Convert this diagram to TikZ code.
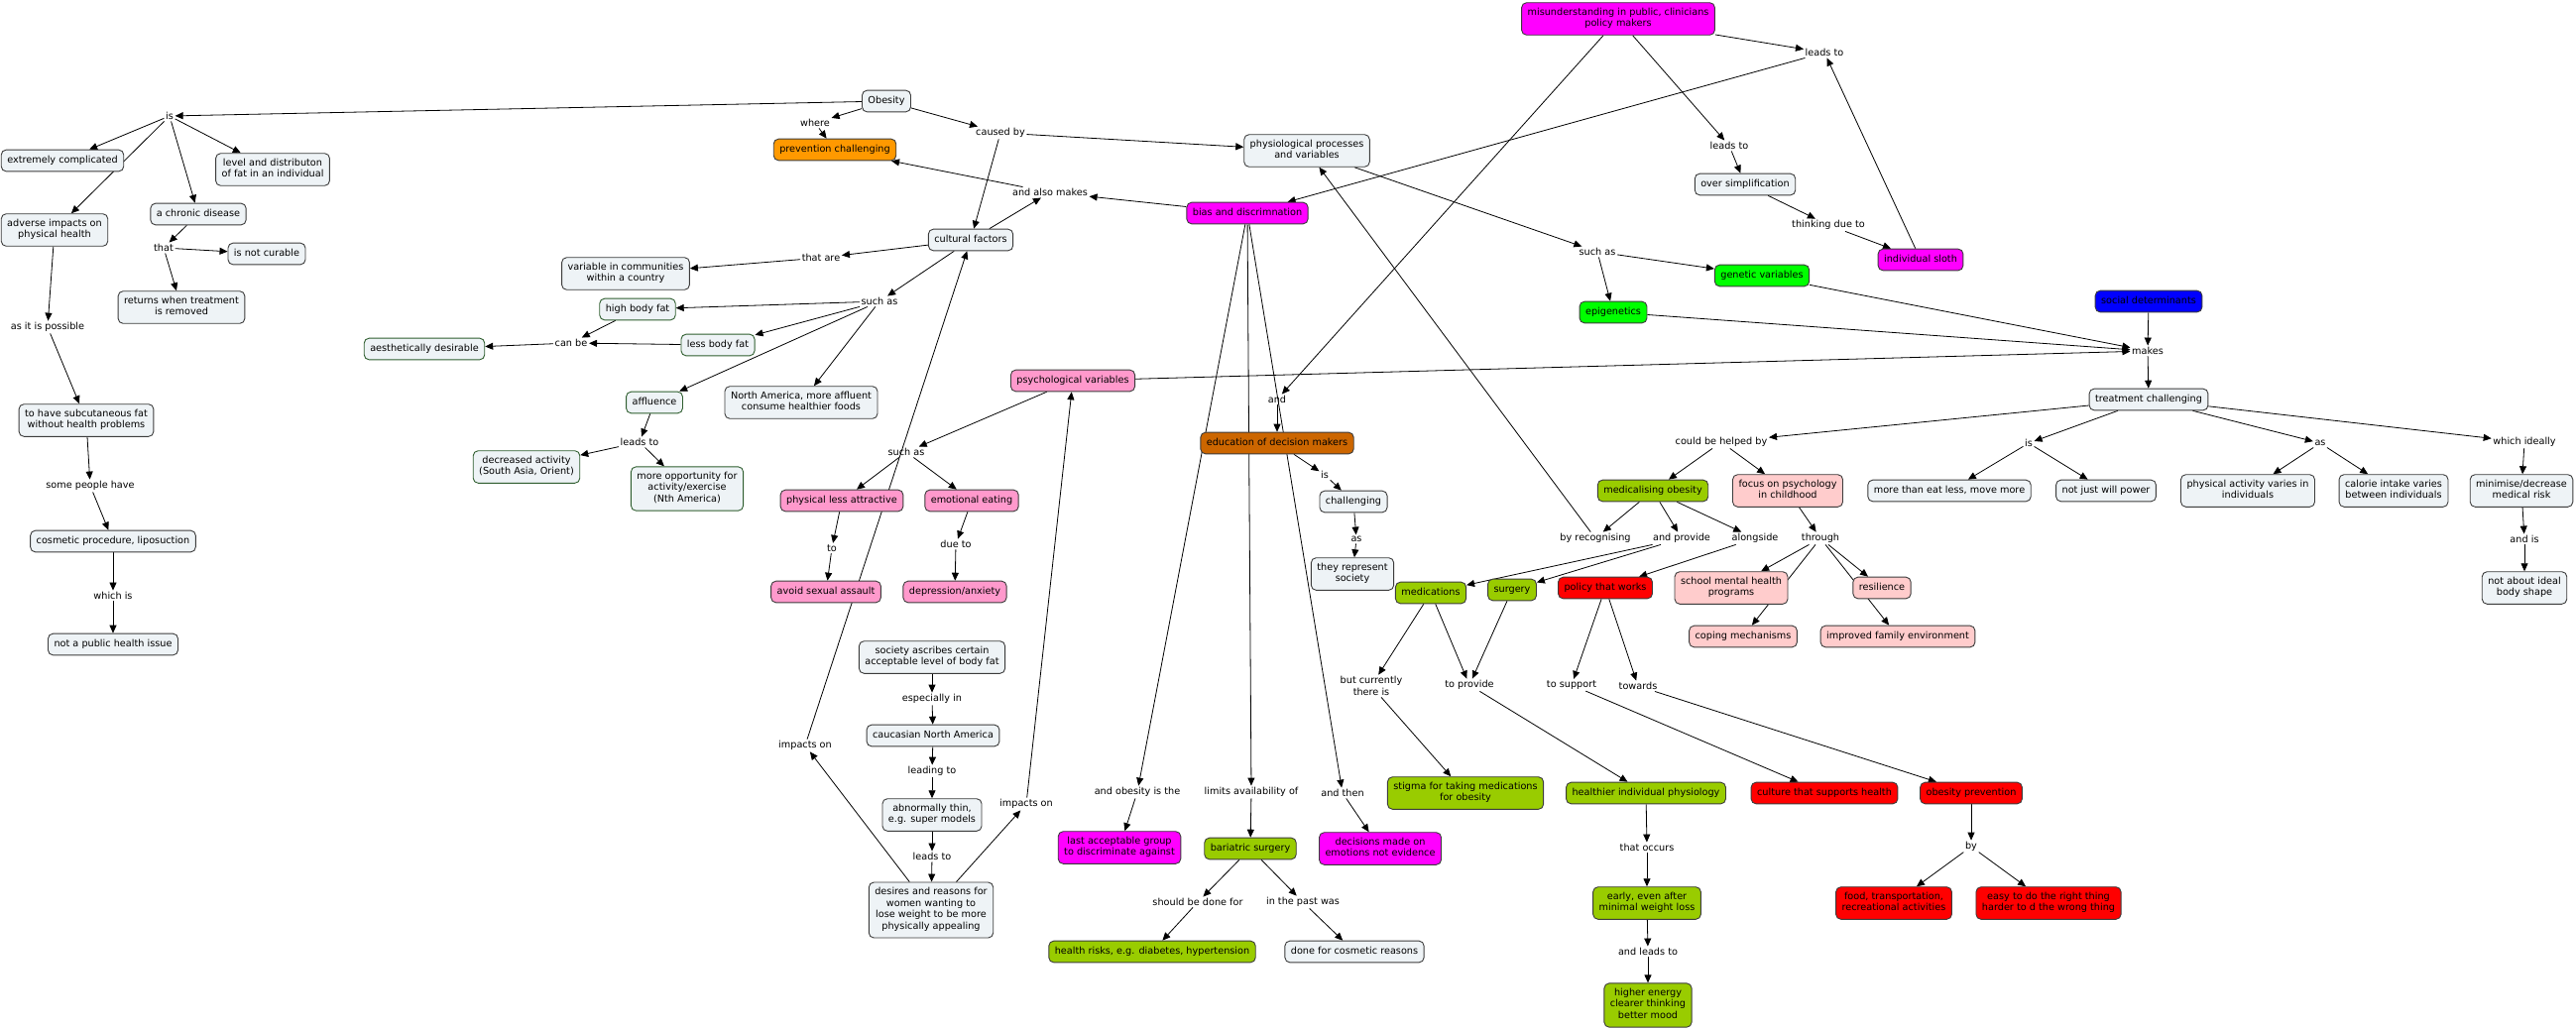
\documentclass[tikz,border=0pt]{standalone}
\usepackage{fontspec}
\setmainfont{DejaVu Sans}
\usetikzlibrary{positioning, arrows.meta, backgrounds}
\definecolor{cPale}{HTML}{EEF3F6}
\definecolor{cEdge}{HTML}{3C3C3C}
\definecolor{cLeaf}{HTML}{2F5E2F}
\definecolor{cMagenta}{HTML}{FF00FF}
\definecolor{cOrange}{HTML}{FF9900}
\definecolor{cRust}{HTML}{CC6600}
\definecolor{cLime}{HTML}{00FF00}
\definecolor{cBlue}{HTML}{0000FF}
\definecolor{cPink}{HTML}{FF99CC}
\definecolor{cOlive}{HTML}{99CC00}
\definecolor{cBlush}{HTML}{FFCCCC}
\definecolor{cRed}{HTML}{FF0000}

\begin{document}
\begin{tikzpicture}[
  x=1pt, y=-1pt,
  font=\fontsize{9.7}{11.7}\selectfont,
  concept/.style={
    draw=cEdge, fill=#1, rounded corners=5pt, line width=0.9pt,
    align=center, inner xsep=6pt, inner ysep=5pt,
    execute at begin node=\strut, execute at end node=\strut
  },
  concept/.default=cPale,
  leafbox/.style={concept, draw=cLeaf},
  linkword/.style={align=center, inner sep=1.5pt},
  link/.style={-{Triangle[length=8pt,width=7pt]}, line width=0.8pt},
]
\useasboundingbox (0,0) rectangle (2598,1037);

% obesity and what it is
\node[concept] (obesity) at (894,102) {Obesity};
\node[linkword] (is) at (171,117) {is};
\node[concept] (extcomp) at (63,162) {extremely complicated};
\node[concept] (levelfat) at (275,171) {level and distributon\\of fat in an individual};
\node[concept] (chronic) at (200,216) {a chronic disease};
\node[concept] (adverse) at (55,232) {adverse impacts on\\physical health};
\node[linkword] (that) at (165,250) {that};
\node[concept] (notcur) at (269,256) {is not curable};
\node[concept] (returns) at (183,310) {returns when treatment\\is removed};
\node[linkword] (asitis) at (48,330) {as it is possible};
\node[concept] (subcut) at (87,424) {to have subcutaneous fat\\without health problems};
\node[linkword] (somepeople) at (91,490) {some people have};
\node[concept] (cosmetic) at (114,546) {cosmetic procedure, liposuction};
\node[linkword] (whichis) at (114,601) {which is};
\node[concept] (notpublic) at (114,650) {not a public health issue};

% causes
\node[linkword] (where) at (822,124) {where};
\node[concept=cOrange] (prevch) at (842,151) {prevention challenging};
\node[linkword] (causedby) at (1009,134) {caused by};
\node[concept] (physio) at (1318,152) {physiological processes\\and variables};
\node[linkword] (alsomakes) at (1059,194) {and also makes};
\node[concept] (cultural) at (979,242) {cultural factors};
\node[linkword] (thatare) at (828,260) {that are};
\node[concept] (varcomm) at (631,276) {variable in communities\\within a country};
\node[linkword] (suchasC) at (887,304) {such as};
\node[leafbox] (highfat) at (643,312) {high body fat};
\node[leafbox] (lessfat) at (724,348) {less body fat};
\node[linkword] (canbe) at (576,346) {can be};
\node[leafbox] (aesth) at (428,352) {aesthetically desirable};
\node[leafbox] (affl) at (660,406) {affluence};
\node[concept] (namer) at (808,406) {North America, more affluent\\consume healthier foods};
\node[linkword] (leadsto3) at (645,446) {leads to};
\node[leafbox] (decact) at (531,471) {decreased activity\\(South Asia, Orient)};
\node[leafbox] (moreopp) at (693,493) {more opportunity for\\activity/exercise\\(Nth America)};

% psychology
\node[concept=cPink] (psychvar) at (1082,384) {psychological variables};
\node[linkword] (suchasV) at (914,456) {such as};
\node[concept=cPink] (physless) at (849,505) {physical less attractive};
\node[concept=cPink] (emot) at (980,505) {emotional eating};
\node[linkword] (toPhys) at (839,553) {to};
\node[linkword] (dueto) at (964,549) {due to};
\node[concept=cPink] (avoid) at (833,597) {avoid sexual assault};
\node[concept=cPink] (depress) at (963,597) {depression/anxiety};

% society
\node[concept] (society) at (940,663) {society ascribes certain\\acceptable level of body fat};
\node[linkword] (especially) at (940,705) {especially in};
\node[concept] (caucas) at (941,742) {caucasian North America};
\node[linkword] (leadingto) at (940,778) {leading to};
\node[concept] (abnorm) at (940,822) {abnormally thin,\\e.g. super models};
\node[linkword] (leadsto4) at (940,864) {leads to};
\node[concept] (desires) at (939,918) {desires and reasons for\\women wanting to\\lose weight to be more\\physically appealing};
\node[linkword] (impacts1) at (812,752) {impacts on};
\node[linkword] (impacts2) at (1035,811) {impacts on};

% misunderstanding
\node[concept=cMagenta] (mis) at (1632,19) {misunderstanding in public, clinicians\\policy makers};
\node[linkword] (leadsto1) at (1840,53) {leads to};
\node[linkword] (leadsto2) at (1744,147) {leads to};
\node[concept] (oversimp) at (1760,186) {over simplification};
\node[linkword] (thinking) at (1844,227) {thinking due to};
\node[concept=cMagenta] (sloth) at (1937,262) {individual sloth};
\node[concept=cMagenta] (bias) at (1258,215) {bias and discrimnation};
\node[linkword] (andE) at (1288,403) {and};
\node[concept=cRust] (educ) at (1288,447) {education of decision makers};
\node[linkword] (isEd) at (1336,479) {is};
\node[concept] (challenging) at (1365,506) {challenging};
\node[linkword] (asCh) at (1368,544) {as};
\node[concept] (represent) at (1364,579) {they represent\\society};

% bias outcomes
\node[linkword] (obisthe) at (1147,799) {and obesity is the};
\node[linkword] (limits) at (1262,799) {limits availability of};
\node[linkword] (andthen) at (1354,800) {and then};
\node[concept=cMagenta] (lastacc) at (1129,855) {last acceptable group\\to discriminate against};
\node[concept=cOlive] (bariatric) at (1261,856) {bariatric surgery};
\node[concept=cMagenta] (decisions) at (1392,856) {decisions made on\\emotions not evidence};
\node[linkword] (shoulddone) at (1208,910) {should be done for};
\node[linkword] (pastwas) at (1314,910) {in the past was};
\node[concept=cOlive] (healthrisks) at (1162,960) {health risks, e.g. diabetes, hypertension};
\node[concept] (cosmreason) at (1366,960) {done for cosmetic reasons};

% physiology
\node[linkword] (suchasP) at (1611,254) {such as};
\node[concept=cLime] (genetic) at (1777,278) {genetic variables};
\node[concept=cLime] (epigen) at (1627,315) {epigenetics};
\node[concept=cBlue] (socdet) at (2167,304) {social determinants};
\node[linkword] (makes) at (2166,354) {makes};
\node[concept] (treat) at (2167,403) {treatment challenging};

% treatment
\node[linkword] (helped) at (1736,446) {could be helped by};
\node[linkword] (isTc) at (2046,447) {is};
\node[linkword] (asTc) at (2340,447) {as};
\node[linkword] (ideally) at (2546,446) {which ideally};
\node[concept=cOlive] (medical) at (1667,495) {medicalising obesity};
\node[concept=cBlush] (focus) at (1803,495) {focus on psychology\\in childhood};
\node[concept] (morethan) at (1966,495) {more than eat less, move more};
\node[concept] (notjust) at (2124,495) {not just will power};
\node[concept] (physact) at (2267,495) {physical activity varies in\\individuals};
\node[concept] (calorie) at (2414,495) {calorie intake varies\\between individuals};
\node[concept] (minimise) at (2543,495) {minimise/decrease\\medical risk};
\node[linkword] (andis) at (2546,544) {and is};
\node[concept] (notideal) at (2546,593) {not about ideal\\body shape};
\node[linkword] (recog) at (1609,543) {by recognising};
\node[linkword] (provide) at (1696,543) {and provide};
\node[linkword] (alongside) at (1770,543) {alongside};
\node[linkword] (through) at (1836,543) {through};
\node[concept=cOlive] (medic) at (1443,598) {medications};
\node[concept=cOlive] (surgery) at (1525,595) {surgery};
\node[concept=cRed] (policy) at (1619,593) {policy that works};
\node[concept=cBlush] (school) at (1746,593) {school mental health\\programs};
\node[concept=cBlush] (resil) at (1898,593) {resilience};
\node[concept=cBlush] (coping) at (1758,642) {coping mechanisms};
\node[concept=cBlush] (family) at (1914,642) {improved family environment};

% provision
\node[linkword] (currently) at (1383,692) {but currently\\there is};
\node[linkword] (toprov) at (1482,691) {to provide};
\node[linkword] (tosupport) at (1585,691) {to support};
\node[linkword] (towards) at (1652,692) {towards};
\node[concept=cOlive] (stigma) at (1478,800) {stigma for taking medications\\for obesity};
\node[concept=cOlive] (healthier) at (1660,800) {healthier individual physiology};
\node[concept=cRed] (culture) at (1840,800) {culture that supports health};
\node[concept=cRed] (obprev) at (1988,800) {obesity prevention};
\node[linkword] (occurs) at (1661,855) {that occurs};
\node[linkword] (byP) at (1988,854) {by};
\node[concept=cOlive] (early) at (1661,911) {early, even after\\minimal weight loss};
\node[concept=cRed] (food) at (1910,911) {food, transportation,\\recreational activities};
\node[concept=cRed] (easy) at (2066,911) {easy to do the right thing\\harder to d the wrong thing};
\node[linkword] (andleads) at (1662,960) {and leads to};
\node[concept=cOlive] (higher) at (1662,1014) {higher energy\\clearer thinking\\better mood};

\begin{scope}[on background layer]
\fill[white] (0,0) rectangle (2598,1037);
% left branch
\draw[link] (obesity) -- (is);
\foreach \t in {extcomp, levelfat, adverse, chronic}
  \draw[link] (is) -- (\t);
\draw[link] (chronic) -- (that);
\draw[link] (that) -- (notcur);
\draw[link] (that) -- (returns);
\draw[link] (adverse) -- (asitis);
\draw[link] (asitis) -- (subcut);
\draw[link] (subcut) -- (somepeople);
\draw[link] (somepeople) -- (cosmetic);
\draw[link] (cosmetic) -- (whichis);
\draw[link] (whichis) -- (notpublic);
% causes
\draw[link] (obesity) -- (where);
\draw[link] (where) -- (prevch);
\draw[link] (obesity) -- (causedby);
\draw[link] (causedby) -- (physio);
\draw[link] (causedby) -- (cultural);
\draw[link] (cultural) -- (alsomakes);
\draw[link] (bias) -- (alsomakes);
\draw[link] (alsomakes) -- (prevch);
\draw[link] (cultural) -- (thatare);
\draw[link] (thatare) -- (varcomm);
\draw[link] (cultural) -- (suchasC);
\foreach \t in {highfat, lessfat, affl, namer}
  \draw[link] (suchasC) -- (\t);
\draw[link] (highfat) -- (canbe);
\draw[link] (lessfat) -- (canbe);
\draw[link] (canbe) -- (aesth);
\draw[link] (affl) -- (leadsto3);
\draw[link] (leadsto3) -- (decact);
\draw[link] (leadsto3) -- (moreopp);
% psychology
\draw[link] (psychvar) -- (suchasV);
\draw[link] (suchasV) -- (physless);
\draw[link] (suchasV) -- (emot);
\draw[link] (physless) -- (toPhys);
\draw[link] (toPhys) -- (avoid);
\draw[link] (emot) -- (dueto);
\draw[link] (dueto) -- (depress);
% society
\draw[link] (society) -- (especially);
\draw[link] (especially) -- (caucas);
\draw[link] (caucas) -- (leadingto);
\draw[link] (leadingto) -- (abnorm);
\draw[link] (abnorm) -- (leadsto4);
\draw[link] (leadsto4) -- (desires);
\draw[link] (desires) -- (impacts1);
\draw[link] (impacts1) -- (cultural);
\draw[link] (desires) -- (impacts2);
\draw[link] (impacts2) -- (psychvar);
% misunderstanding
\draw[link] (mis) -- (leadsto1);
\draw[link] (sloth) -- (leadsto1);
\draw[link] (leadsto1) -- (bias);
\draw[link] (mis) -- (leadsto2);
\draw[link] (leadsto2) -- (oversimp);
\draw[link] (oversimp) -- (thinking);
\draw[link] (thinking) -- (sloth);
\draw[link] (mis) -- (andE);
\draw[link] (andE) -- (educ);
\draw[link] (educ) -- (isEd);
\draw[link] (isEd) -- (challenging);
\draw[link] (challenging) -- (asCh);
\draw[link] (asCh) -- (represent);
% bias
\draw[link] (bias) -- (obisthe);
\draw[link] (obisthe) -- (lastacc);
\draw[link] (bias) -- (limits);
\draw[link] (limits) -- (bariatric);
\draw[link] (bias) -- (andthen);
\draw[link] (andthen) -- (decisions);
\draw[link] (bariatric) -- (shoulddone);
\draw[link] (shoulddone) -- (healthrisks);
\draw[link] (bariatric) -- (pastwas);
\draw[link] (pastwas) -- (cosmreason);
% physiology
\draw[link] (physio) -- (suchasP);
\draw[link] (suchasP) -- (genetic);
\draw[link] (suchasP) -- (epigen);
\foreach \s in {genetic, epigen, psychvar, socdet}
  \draw[link] (\s) -- (makes);
\draw[link] (makes) -- (treat);
% treatment
\draw[link] (treat) -- (helped);
\draw[link] (helped) -- (medical);
\draw[link] (helped) -- (focus);
\draw[link] (treat) -- (isTc);
\draw[link] (isTc) -- (morethan);
\draw[link] (isTc) -- (notjust);
\draw[link] (treat) -- (asTc);
\draw[link] (asTc) -- (physact);
\draw[link] (asTc) -- (calorie);
\draw[link] (treat) -- (ideally);
\draw[link] (ideally) -- (minimise);
\draw[link] (minimise) -- (andis);
\draw[link] (andis) -- (notideal);
\draw[link] (medical) -- (recog);
\draw[link] (recog) -- (physio);
\draw[link] (medical) -- (provide);
\draw[link] (provide) -- (medic);
\draw[link] (provide) -- (surgery);
\draw[link] (medical) -- (alongside);
\draw[link] (alongside) -- (policy);
\draw[link] (focus) -- (through);
\foreach \t in {school, coping, resil, family}
  \draw[link] (through) -- (\t);
% provision
\draw[link] (medic) -- (currently);
\draw[link] (currently) -- (stigma);
\draw[link] (medic) -- (toprov);
\draw[link] (surgery) -- (toprov);
\draw[link] (toprov) -- (healthier);
\draw[link] (policy) -- (tosupport);
\draw[link] (tosupport) -- (culture);
\draw[link] (policy) -- (towards);
\draw[link] (towards) -- (obprev);
\draw[link] (healthier) -- (occurs);
\draw[link] (occurs) -- (early);
\draw[link] (early) -- (andleads);
\draw[link] (andleads) -- (higher);
\draw[link] (obprev) -- (byP);
\draw[link] (byP) -- (food);
\draw[link] (byP) -- (easy);
\end{scope}
\end{tikzpicture}
\end{document}
